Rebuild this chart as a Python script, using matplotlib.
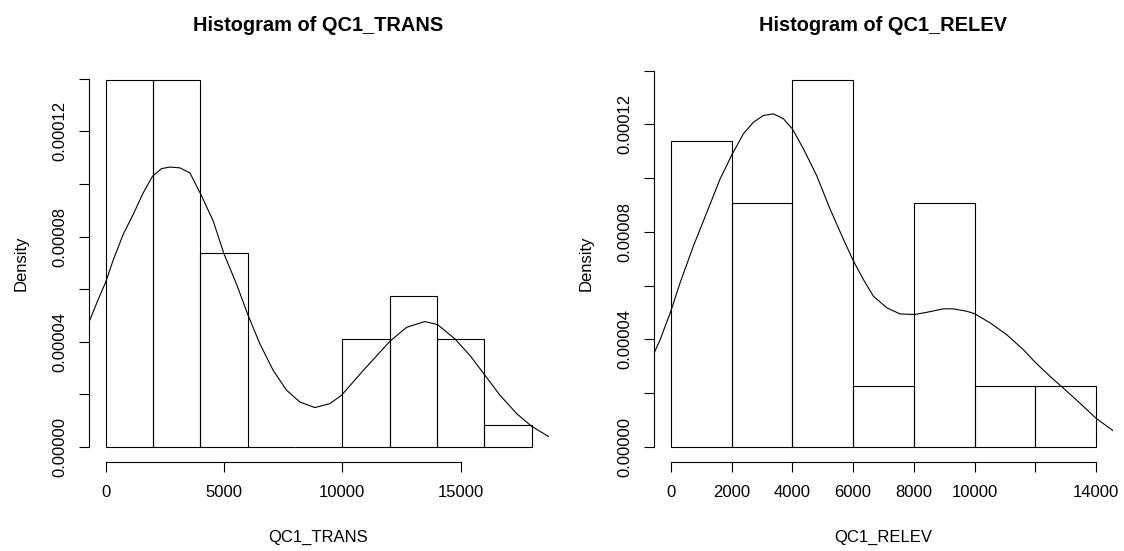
import numpy as np
import matplotlib.pyplot as plt

plt.rcParams['font.family'] = ['Liberation Sans', 'DejaVu Sans']

# QC1_TRANS: bin edges, counts per bin, and the kernel density curve (density in 1e-5 units)
trans_breaks = [0, 2000, 4000, 6000, 8000, 10000, 12000, 14000, 16000, 18000]
trans_counts = [17, 17, 9, 0, 0, 5, 7, 5, 1]
trans_kde_x = [-720, -364, 0, 322, 745, 1168, 1591, 1985, 2365, 2718, 3140, 3563,
               4028, 4549, 5000, 5535, 6000, 6522, 7085, 7649, 8212, 8846, 9480,
               9973, 10889, 12016, 12721, 13495, 14031, 14763, 15397, 16003,
               16665, 17370, 18000, 18720]
trans_kde_y = [4.70, 5.49, 6.25, 7.10, 8.08, 8.84, 9.66, 10.29, 10.58, 10.64, 10.61, 10.42,
               9.60, 8.59, 7.35, 6.19, 5.06, 3.92, 2.91, 2.16, 1.71, 1.50, 1.65,
               1.97, 2.91, 4.02, 4.55, 4.77, 4.65, 4.11, 3.48, 2.76,
               1.97, 1.27, 0.79, 0.40]
trans_xticks = [0, 5000, 10000, 15000]
trans_xlabels = ['0', '5000', '10000', '15000']

# QC1_RELEV
relev_breaks = [0, 2000, 4000, 6000, 8000, 10000, 12000, 14000]
relev_counts = [5, 4, 6, 1, 4, 1, 1]
relev_kde_x = [-560, -352, 0, 306, 745, 1184, 1623, 2007, 2391, 2720, 3049, 3378,
               3707, 4004, 4366, 4805, 5244, 5682, 6012, 6341, 6670, 7109, 7548,
               8031, 8426, 8974, 9303, 9742, 10000, 10510, 11059, 11607, 12000,
               12485, 12924, 13473, 14000, 14560]
relev_kde_y = [3.47, 3.99, 5.05, 6.11, 7.48, 8.72, 9.97, 10.86, 11.65, 12.08, 12.33, 12.39,
               12.21, 11.83, 11.09, 10.09, 8.85, 7.73, 6.92, 6.23, 5.61, 5.18, 4.95,
               4.93, 5.01, 5.14, 5.14, 5.05, 4.96, 4.62, 4.18, 3.62, 3.15,
               2.63, 2.19, 1.63, 1.07, 0.61]
relev_xticks = [0, 2000, 4000, 6000, 8000, 10000, 12000, 14000]
relev_xlabels = ['0', '2000', '4000', '6000', '8000', '10000', '', '14000']

y_ticks = [0, 0.00002, 0.00004, 0.00006, 0.00008, 0.00010, 0.00012, 0.00014]


def draw_hist(ax, breaks, counts, kde_x, kde_y, name, xticks, xlabels):
    breaks = np.asarray(breaks, dtype=float)
    counts = np.asarray(counts, dtype=float)
    widths = np.diff(breaks)
    dens = counts / (counts.sum() * widths)

    ax.bar(breaks[:-1], dens, width=widths, align='edge', fill=False,
           edgecolor='black', linewidth=0.8)
    ax.plot(kde_x, np.asarray(kde_y) * 1e-5, color='black', linewidth=0.8)

    # base-graphics style 4% padding around the data
    span = breaks[-1] - breaks[0]
    ax.set_xlim(breaks[0] - 0.04 * span, breaks[-1] + 0.04 * span)
    ax.set_ylim(-0.04 * dens.max(), 1.04 * dens.max())

    ax.spines['top'].set_visible(False)
    ax.spines['right'].set_visible(False)
    ax.spines['bottom'].set_bounds(xticks[0], xticks[-1])
    ax.spines['left'].set_bounds(y_ticks[0], y_ticks[-1])
    for s in ['bottom', 'left']:
        ax.spines[s].set_linewidth(0.8)

    ax.set_xticks(xticks)
    ax.set_xticklabels(xlabels)
    ax.set_yticks(y_ticks)
    ax.set_yticklabels(['%.5f' % t if i % 2 == 0 else '' for i, t in enumerate(y_ticks)])
    ax.tick_params(length=7.5, width=0.8, labelsize=12, color='black')
    ax.tick_params(axis='x', pad=9.5)
    ax.tick_params(axis='y', pad=8, labelrotation=90)
    for lbl in ax.get_yticklabels():
        lbl.set_va('center')

    ax.set_xlabel(name, fontsize=12)
    ax.xaxis.set_label_coords(0.5, -0.2015)
    ax.xaxis.label.set_va('baseline')
    ax.set_ylabel('Density', fontsize=12)
    ax.yaxis.set_label_coords(-0.147, 0.5)
    ax.yaxis.label.set_va('center')

    ax.text(0.5, 1.0876, 'Histogram of ' + name, transform=ax.transAxes,
            ha='center', va='baseline', fontsize=14.4, fontweight='bold')


fig = plt.figure(figsize=(11.24, 5.51), dpi=100)
W, H = 1124.0, 551.0
bottom = 1 - 461.7 / H
height = (461.7 - 65.7) / H
ax1 = fig.add_axes([88.5 / W, bottom, (548.6 - 88.5) / W, height])
ax2 = fig.add_axes([653.8 / W, bottom, (1113.0 - 653.8) / W, height])

draw_hist(ax1, trans_breaks, trans_counts, trans_kde_x, trans_kde_y,
          'QC1_TRANS', trans_xticks, trans_xlabels)
draw_hist(ax2, relev_breaks, relev_counts, relev_kde_x, relev_kde_y,
          'QC1_RELEV', relev_xticks, relev_xlabels)

fig.savefig('out.png', dpi=100, facecolor='white')
